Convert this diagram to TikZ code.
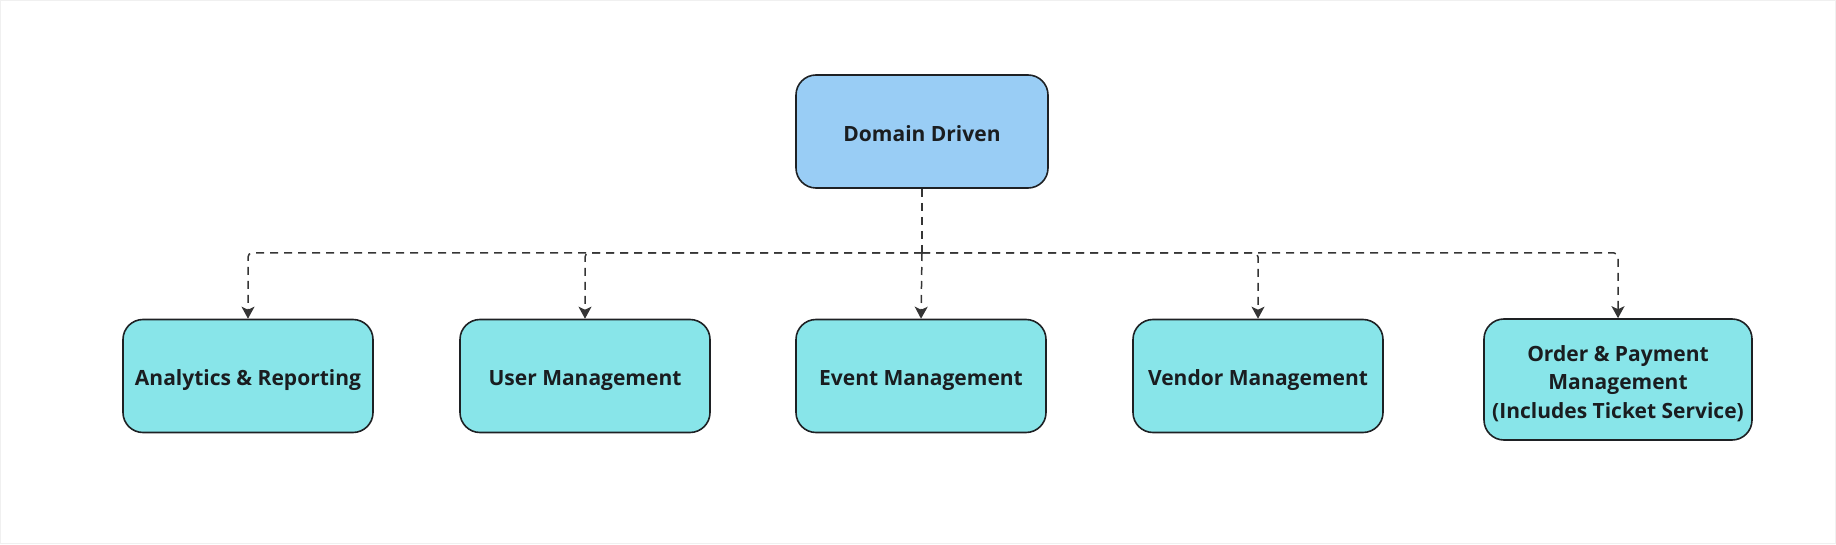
\documentclass[tikz,border=0pt]{standalone}
\usepackage{fontspec}
\setmainfont{Open Sans}
\usetikzlibrary{arrows.meta}
\definecolor{topfill}{HTML}{99CDF5}
\definecolor{childfill}{HTML}{88E5E9}
\definecolor{edge}{HTML}{1E2124}
\definecolor{conn}{HTML}{353535}
\definecolor{txt}{HTML}{1A1D20}
\begin{document}
\begin{tikzpicture}[x=1pt,y=1pt,
  lbl/.style={inner sep=0pt, align=center, text=txt, font=\fontsize{21}{28.5}\selectfont\bfseries},
  box/.style={lbl, draw=edge, line width=1.6pt, rounded corners=20pt, minimum width=250pt, minimum height=113pt, text height=20pt, text depth=0.5pt},
  topbox/.style={box, fill=topfill, minimum width=252pt},
  childbox/.style={box, fill=childfill},
  trunk/.style={draw=conn, line width=1.5pt, dash pattern=on 8pt off 6pt},
  link/.style={trunk, rounded corners=4pt, -{Stealth[length=12pt,width=13pt,inset=3pt]}}
]
\useasboundingbox (0,0) rectangle (1836,544);
\draw[draw=black!6, line width=1pt] (0.5,0.5) rectangle (1835.5,543.5);

\node[topbox] (dd) at (922,412.5) {Domain Driven};
\coordinate (bus) at (922,291);

\node[childbox] (ar) at (248,168) {Analytics \& Reporting};
\node[childbox] (um) at (585,168) {User Management};
\node[childbox] (em) at (921,168) {Event Management};
\node[childbox] (vm) at (1258,168) {Vendor Management};
\node[childbox, minimum width=268pt, minimum height=121pt] (op) at (1618,164.5) {};
\node[lbl] (optext) at ([yshift=-4pt]op.center) {Order \& Payment\\Management\\(Includes Ticket Service)};

\draw[trunk] (dd.south) -- (bus);
\draw[link] (bus) -| (ar.north);
\draw[link] (bus) -| (um.north);
\draw[link] (bus) -- (em.north);
\draw[link] (bus) -| (vm.north);
\draw[link] (bus) -| (op.north);
\end{tikzpicture}
\end{document}
